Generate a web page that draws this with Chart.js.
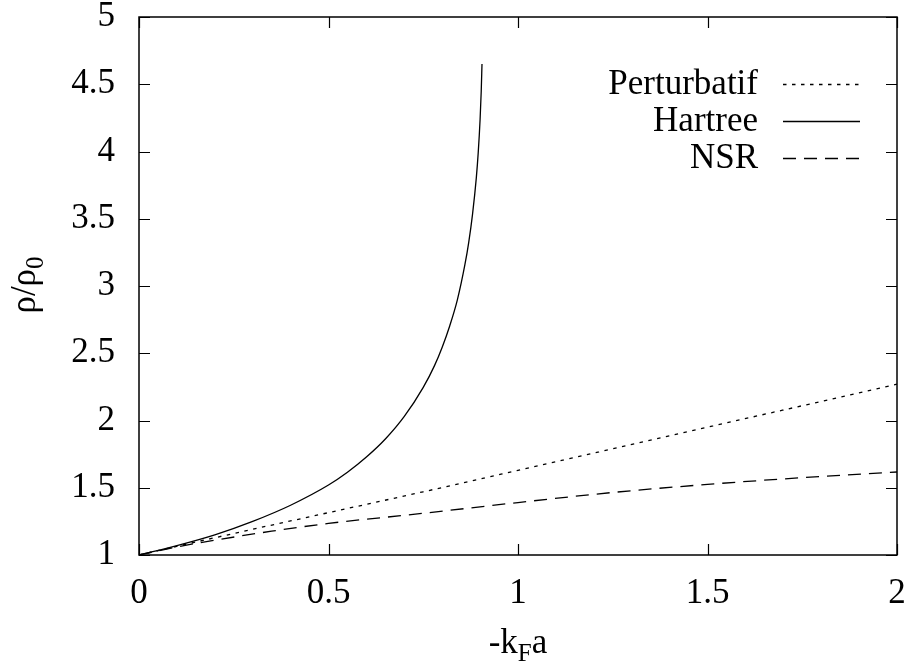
<!DOCTYPE html>
<html>
<head>
<meta charset="utf-8">
<script src="https://cdn.jsdelivr.net/npm/chart.js@4/dist/chart.umd.min.js"></script>
<style>
    html, body { margin: 0; padding: 0; background: #fff; }
    #wrap { width: 913px; height: 666px; }
</style>
</head>
<body>
<div id="wrap"><canvas id="densityChart" width="913" height="666"></canvas></div>
<script>
const xTicks = [0, 0.5, 1, 1.5, 2];
const yTicks = [1, 1.5, 2, 2.5, 3, 3.5, 4, 4.5, 5];

const perturbatifX = [0, 0.25, 0.5, 0.75, 1, 1.25, 1.5, 1.75, 2];
const perturbatifY = [1, 1.16, 1.315, 1.47, 1.63, 1.79, 1.95, 2.11, 2.27];

const hartreeX = [0, 0.1, 0.2, 0.3, 0.4, 0.5, 0.55, 0.6, 0.65, 0.7, 0.75, 0.78, 0.8, 0.82, 0.84, 0.86, 0.87, 0.88, 0.89, 0.895, 0.9, 0.903, 0.905];
const hartreeY = [1, 1.07, 1.15, 1.25, 1.37, 1.52, 1.615, 1.728, 1.862, 2.03, 2.246, 2.41, 2.545, 2.705, 2.897, 3.16, 3.325, 3.533, 3.804, 3.99, 4.24, 4.45, 4.65];

const nsrX = [0, 0.1, 0.2, 0.35, 0.5, 0.75, 1, 1.25, 1.5, 1.75, 2];
const nsrY = [1, 1.06, 1.11, 1.177, 1.235, 1.31, 1.39, 1.465, 1.525, 1.575, 1.617];

const seriesNames = ['Perturbatif', 'Hartree', 'NSR'];

const serif = '"Liberation Serif", "Times New Roman", serif';
const ink = '#000';
const fontSize = 35;

function toPoints(xs, ys) {
    return xs.map((x, i) => ({ x, y: ys[i] }));
}

// gnuplot style: inward ticks on all four sides, framed plot
const frameTicks = {
    id: 'frameTicks',
    afterDraw(chart) {
        const { ctx, chartArea: a, scales } = chart;
        const len = 11;
        ctx.save();
        ctx.strokeStyle = ink;
        ctx.lineWidth = 1.2;
        ctx.beginPath();
        xTicks.forEach((v) => {
            const px = Math.round(scales.x.getPixelForValue(v)) + 0.5;
            ctx.moveTo(px, a.bottom); ctx.lineTo(px, a.bottom - len);
            ctx.moveTo(px, a.top); ctx.lineTo(px, a.top + len);
        });
        yTicks.forEach((v) => {
            const py = Math.round(scales.y.getPixelForValue(v)) + 0.5;
            ctx.moveTo(a.left, py); ctx.lineTo(a.left + len, py);
            ctx.moveTo(a.right, py); ctx.lineTo(a.right - len, py);
        });
        ctx.stroke();
        ctx.lineWidth = 1.5;
        ctx.strokeRect(a.left, a.top, a.right - a.left, a.bottom - a.top);
        ctx.restore();
    },
};

// axis titles with subscripts, and the gnuplot-like key
const labelsAndKey = {
    id: 'labelsAndKey',
    afterDraw(chart) {
        const { ctx } = chart;
        const big = fontSize + 'px ' + serif;
        const small = '25px ' + serif;
        ctx.save();
        ctx.fillStyle = ink;
        ctx.textBaseline = 'alphabetic';
        ctx.textAlign = 'left';

        // x title: -k_F a
        ctx.font = big;
        const wK = ctx.measureText('-k').width;
        const wA = ctx.measureText('a').width;
        ctx.font = small;
        const wF = ctx.measureText('F').width;
        const x0 = 518 - (wK + wF + wA) / 2;
        const base = 653;
        ctx.font = big;
        ctx.fillText('-k', x0, base);
        ctx.font = small;
        ctx.fillText('F', x0 + wK, base + 8);
        ctx.font = big;
        ctx.fillText('a', x0 + wK + wF, base);

        // y title: rho/rho_0, rotated
        ctx.translate(35, 285);
        ctx.rotate(-Math.PI / 2);
        ctx.font = big;
        const wR = ctx.measureText('ρ/ρ').width;
        ctx.font = small;
        const w0 = ctx.measureText('0').width;
        const y0 = -(wR + w0) / 2;
        ctx.font = big;
        ctx.fillText('ρ/ρ', y0, 0);
        ctx.font = small;
        ctx.fillText('0', y0 + wR, 8);
        ctx.restore();

        // key
        ctx.save();
        ctx.font = big;
        ctx.textAlign = 'right';
        ctx.textBaseline = 'middle';
        chart.data.datasets.forEach((ds, i) => {
            const ky = 84 + i * 37;
            ctx.fillStyle = ink;
            ctx.fillText(ds.label, 758, ky + 1);
            ctx.strokeStyle = ds.borderColor;
            ctx.lineWidth = ds.borderWidth;
            ctx.setLineDash(ds.borderDash || []);
            ctx.beginPath();
            ctx.moveTo(783, ky + 0.5);
            ctx.lineTo(860, ky + 0.5);
            ctx.stroke();
        });
        ctx.restore();
    },
};

function noScalePadding(scale) {
    scale.paddingTop = 0;
    scale.paddingBottom = 0;
    scale.paddingLeft = 0;
    scale.paddingRight = 0;
}

function buildDensityChart(canvas) {
    return new Chart(canvas, {
        type: 'line',
        data: {
            datasets: [
                {
                    label: seriesNames[0],
                    data: toPoints(perturbatifX, perturbatifY),
                    borderColor: ink,
                    borderWidth: 1.3,
                    borderDash: [3.5, 5.5],
                    pointRadius: 0,
                    cubicInterpolationMode: 'monotone',
                },
                {
                    label: seriesNames[1],
                    data: toPoints(hartreeX, hartreeY),
                    borderColor: ink,
                    borderWidth: 1.3,
                    pointRadius: 0,
                    cubicInterpolationMode: 'monotone',
                },
                {
                    label: seriesNames[2],
                    data: toPoints(nsrX, nsrY),
                    borderColor: ink,
                    borderWidth: 1.3,
                    borderDash: [13, 8],
                    pointRadius: 0,
                    cubicInterpolationMode: 'monotone',
                },
            ],
        },
        options: {
            responsive: false,
            animation: false,
            layout: { padding: { top: 17, right: 16, left: 0, bottom: 0 } },
            scales: {
                x: {
                    type: 'linear',
                    min: 0,
                    max: 2,
                    afterBuildTicks(scale) {
                        scale.ticks = xTicks.map((v) => ({ value: v }));
                    },
                    afterFit(scale) {
                        scale.height = 111;
                        noScalePadding(scale);
                    },
                    grid: { display: false, drawTicks: false },
                    border: { display: false },
                    ticks: {
                        color: ink,
                        font: { family: serif, size: fontSize },
                        padding: 18,
                        maxRotation: 0,
                        callback: (v) => String(v),
                    },
                },
                y: {
                    type: 'linear',
                    min: 1,
                    max: 5,
                    afterBuildTicks(scale) {
                        scale.ticks = yTicks.map((v) => ({ value: v }));
                    },
                    afterFit(scale) {
                        scale.width = 139;
                        noScalePadding(scale);
                    },
                    grid: { display: false, drawTicks: false },
                    border: { display: false },
                    ticks: {
                        color: ink,
                        font: { family: serif, size: fontSize },
                        padding: 24,
                        callback: (v) => String(v),
                    },
                },
            },
            plugins: {
                legend: { display: false },
                tooltip: { enabled: false },
            },
        },
        plugins: [frameTicks, labelsAndKey],
    });
}

buildDensityChart(document.getElementById('densityChart'));
</script>
</body>
</html>
